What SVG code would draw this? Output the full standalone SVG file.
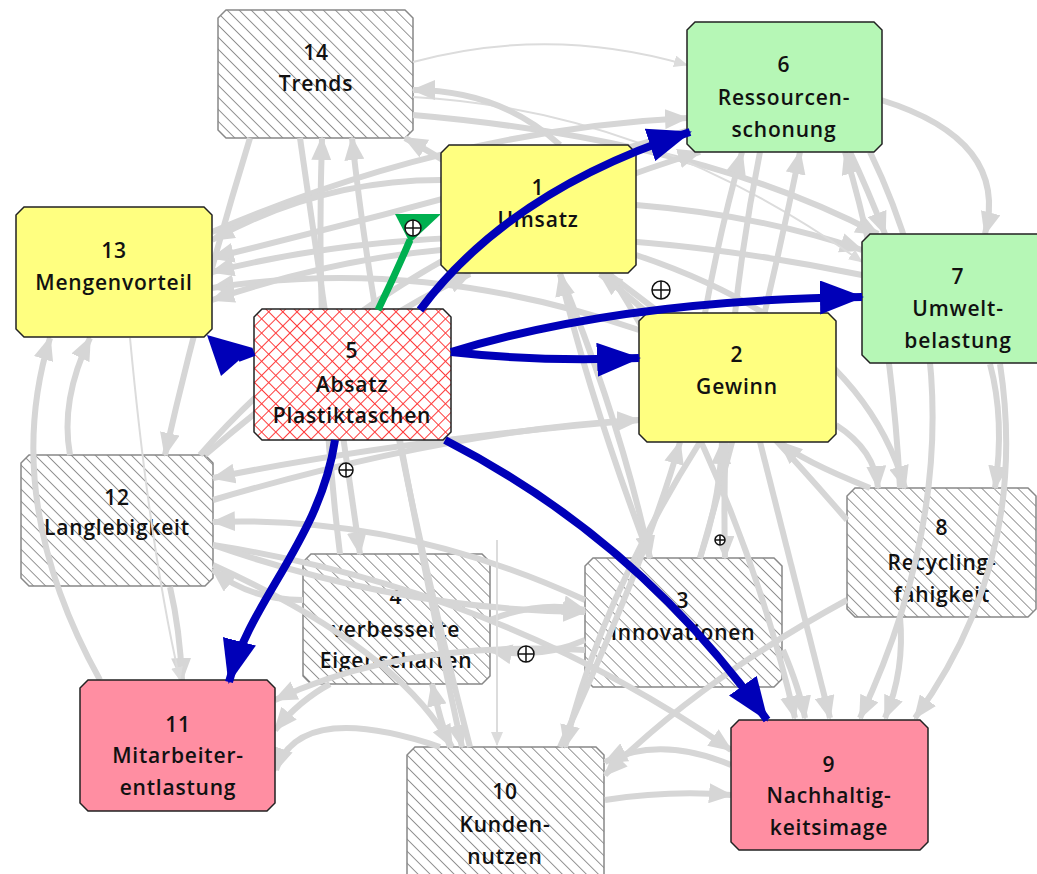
<svg xmlns="http://www.w3.org/2000/svg" width="1037" height="874" viewBox="0 0 1037 874">
<defs>
<pattern id="hatch" width="8.5" height="8.5" patternUnits="userSpaceOnUse" patternTransform="rotate(-45)">
<rect width="8.5" height="8.5" fill="#fff"/>
<line x1="0" y1="0" x2="0" y2="8.5" stroke="#404040" stroke-width="1.1"/>
</pattern>
<pattern id="cross" width="10" height="10" patternUnits="userSpaceOnUse" patternTransform="rotate(45)">
<rect width="10" height="10" fill="#fff"/>
<line x1="0" y1="0" x2="0" y2="10" stroke="#ff3c3c" stroke-width="2"/>
<line x1="0" y1="0" x2="10" y2="0" stroke="#ff3c3c" stroke-width="2"/>
</pattern>
<marker id="ga" markerUnits="userSpaceOnUse" markerWidth="24" markerHeight="20" refX="22" refY="10" orient="auto"><path d="M0,0 L24,10 L0,20 z" fill="#d6d6d6"/></marker>
<marker id="gt" markerUnits="userSpaceOnUse" markerWidth="14" markerHeight="12" refX="13" refY="6" orient="auto"><path d="M0,0 L14,6 L0,12 z" fill="#dcdcdc"/></marker>
<marker id="ba" markerUnits="userSpaceOnUse" markerWidth="44" markerHeight="34" refX="42" refY="17" orient="auto"><path d="M0,0 L44,17 L0,34 z" fill="#0000b8"/></marker>
</defs>
<style>
.lbl{font-family:"Open Sans","Liberation Sans",sans-serif;font-size:21px;font-weight:600;fill:#111;text-anchor:middle;letter-spacing:0.8px}
.hn{fill:url(#hatch);stroke:#888;stroke-width:1.5}
.yel{fill:#ffff80;stroke:#222;stroke-width:1.5}
.grn{fill:#b6f7b6;stroke:#222;stroke-width:1.5}
.pnk{fill:#ff8ea2;stroke:#222;stroke-width:1.5}
.red{fill:url(#cross);stroke:#222;stroke-width:1.5}
.g{fill:none;stroke:#d6d6d6;stroke-width:6;marker-end:url(#ga)}
.gt{fill:none;stroke:#dcdcdc;stroke-width:2;marker-end:url(#gt)}
.b{fill:none;stroke:#0000b8;stroke-width:8}
.pl circle{fill:#fff;stroke:#111;stroke-width:1.5}
.pl line{stroke:#111;stroke-width:1.5}
</style>
<rect width="1037" height="874" fill="#fff"/>

<g id="node14"><path class="hn" d="M226 10 H405 L413 18 V130 L405 138 H226 L218 130 V18 Z"/><text class="lbl" x="316" y="60">14</text><text class="lbl" x="316" y="91">Trends</text></g>
<g id="node12"><path class="hn" d="M29 455 H205 L213 463 V578 L205 586 H29 L21 578 V463 Z"/><text class="lbl" x="117" y="505">12</text><text class="lbl" x="117" y="535">Langlebigkeit</text></g>
<g id="node8"><path class="hn" d="M855 488 H1028 L1036 496 V609 L1028 617 H855 L847 609 V496 Z"/><text class="lbl" x="942" y="535">8</text><text class="lbl" x="942" y="570">Recycling-</text><text class="lbl" x="942" y="602">fähigkeit</text></g>
<g id="node4"><path class="hn" d="M311 554 H482 L490 562 V676 L482 684 H311 L303 676 V562 Z"/><text class="lbl" x="396" y="604">4</text><text class="lbl" x="396" y="637">verbesserte</text><text class="lbl" x="396" y="668">Eigenschaften</text></g>
<g id="node3"><path class="hn" d="M593 558 H774 L782 566 V679 L774 687 H593 L585 679 V566 Z"/><text class="lbl" x="683" y="608">3</text><text class="lbl" x="683" y="640">Innovationen</text></g>
<g id="node10"><path class="hn" d="M415 747 H596 L604 755 V880 H407 V755 Z"/><text class="lbl" x="505" y="799">10</text><text class="lbl" x="505" y="832">Kunden-</text><text class="lbl" x="505" y="864">nutzen</text></g>

<g id="connectors">
<path class="g" d="M900 617 Q905 670 885 718"/>
<path class="g" d="M1000 364 Q1030 560 915 718"/>
<path class="g" d="M870 152 Q1000 420 860 718"/>
<path class="g" d="M760 442 Q800 600 830 718"/>
<path class="g" d="M783 650 Q800 690 805 718"/>
<path class="g" d="M610 274 Q740 480 795 718"/>
<path class="g" d="M213 545 Q500 590 731 750"/>
<path class="g" d="M605 800 Q670 790 731 795"/>
<path class="g" d="M731 765 Q660 735 605 762"/>
<path class="g" d="M990 364 Q1005 420 995 488"/>
<path class="g" d="M881 100 Q1010 140 985 234"/>
<path class="g" d="M636 255 Q860 330 905 488"/>
<path class="g" d="M836 425 Q875 450 878 488"/>
<path class="g" d="M850 152 Q868 190 885 234"/>
<path class="g" d="M636 205 Q760 215 862 250"/>
<path class="g" d="M413 115 Q700 140 878 234"/>
<path class="gt" d="M413 62 Q550 25 687 65"/>
<path class="gt" d="M413 97 Q650 110 862 262"/>
<path class="g" d="M212 232 Q450 130 687 118"/>
<path class="g" d="M200 455 Q380 250 700 152"/>
<path class="g" d="M705 313 Q720 230 742 152"/>
<path class="g" d="M700 558 Q760 350 800 152"/>
<path class="g" d="M900 488 Q890 300 845 152"/>
<path class="g" d="M340 554 Q315 350 322 138"/>
<path class="g" d="M470 747 Q380 400 352 138"/>
<path class="g" d="M660 313 Q500 190 405 138"/>
<path class="g" d="M690 130 Q450 200 212 258"/>
<path class="g" d="M639 330 Q420 255 212 288"/>
<path class="g" d="M862 275 Q500 200 212 272"/>
<path class="g" d="M70 455 Q60 400 90 338"/>
<path class="g" d="M100 680 Q0 500 50 338"/>
<path class="g" d="M639 420 Q400 440 213 478"/>
<path class="g" d="M585 600 Q400 515 213 522"/>
<path class="g" d="M250 138 Q200 300 165 455"/>
<path class="g" d="M170 587 Q180 630 182 680"/>
<path class="g" d="M585 650 Q400 640 275 700"/>
<path class="gt" d="M130 338 Q150 550 180 680"/>
<path class="g" d="M400 440 Q430 600 462 747"/>
<path class="g" d="M700 442 Q600 600 565 747"/>
<path class="g" d="M213 565 Q400 650 452 747"/>
<path class="g" d="M847 600 Q700 680 605 775"/>
<path class="g" d="M560 274 Q620 420 650 558"/>
<path class="g" d="M760 152 Q720 350 725 558"/>
<path class="g" d="M213 545 Q400 610 585 612"/>
<path class="g" d="M300 138 Q330 350 360 554"/>
<path class="g" d="M450 747 Q440 720 432 684"/>
<path class="g" d="M650 558 Q590 400 560 274"/>
<path class="g" d="M205 455 Q350 330 470 274"/>
<path class="g" d="M847 520 Q700 350 600 274"/>
<path class="g" d="M870 488 Q800 460 780 442"/>
<path class="g" d="M700 558 Q720 500 722 442"/>
<path class="g" d="M560 747 Q650 550 680 442"/>
<path class="g" d="M213 500 Q450 430 639 420"/>
<path class="g" d="M490 620 Q540 600 585 610"/>
<path class="g" d="M585 640 Q540 660 490 650"/>
<path class="g" d="M441 250 Q330 260 212 300"/>
<path class="g" d="M441 180 Q320 180 212 240"/>
<path class="g" d="M560 145 Q500 90 413 90"/>
<path class="g" d="M303 600 Q250 600 213 570"/>
<path class="g" d="M330 684 Q300 700 275 730"/>
<path class="g" d="M440 747 Q300 700 276 770"/>
<path class="gt" d="M497 540 L497 745"/>
</g>

<g id="node6"><path class="grn" d="M695 22 H874 L882 30 V144 L874 152 H695 L687 144 V30 Z"/><text class="lbl" x="784" y="72">6</text><text class="lbl" x="784" y="105">Ressourcen-</text><text class="lbl" x="784" y="137">schonung</text></g>
<g id="node1"><path class="yel" d="M449 145 H628 L636 153 V265 L628 273 H449 L441 265 V153 Z"/><text class="lbl" x="538" y="195">1</text><text class="lbl" x="538" y="227">Umsatz</text></g>
<g id="node13"><path class="yel" d="M24 207 H204 L212 215 V329 L204 337 H24 L16 329 V215 Z"/><text class="lbl" x="114" y="258">13</text><text class="lbl" x="114" y="290">Mengenvorteil</text></g>
<g id="node7"><path class="grn" d="M870 234 H1040 L1048 242 V355 L1040 363 H870 L862 355 V242 Z"/><text class="lbl" x="958" y="284">7</text><text class="lbl" x="958" y="316">Umwelt-</text><text class="lbl" x="958" y="348">belastung</text></g>
<g id="node2"><path class="yel" d="M647 313 H828 L836 321 V434 L828 442 H647 L639 434 V321 Z"/><text class="lbl" x="737" y="362">2</text><text class="lbl" x="737" y="394">Gewinn</text></g>
<g id="node11"><path class="pnk" d="M88 680 H267 L275 688 V803 L267 811 H88 L80 803 V688 Z"/><text class="lbl" x="178" y="732">11</text><text class="lbl" x="178" y="763">Mitarbeiter-</text><text class="lbl" x="178" y="795">entlastung</text></g>
<g id="node9"><path class="pnk" d="M739 720 H920 L928 728 V842 L920 850 H739 L731 842 V728 Z"/><text class="lbl" x="829" y="772">9</text><text class="lbl" x="829" y="803">Nachhaltig-</text><text class="lbl" x="829" y="835">keitsimage</text></g>
<g id="node5"><path class="red" d="M262 309 H443 L451 317 V432 L443 440 H262 L254 432 V317 Z"/><text class="lbl" x="352" y="358">5</text><text class="lbl" x="352" y="392">Absatz</text><text class="lbl" x="352" y="423">Plastiktaschen</text></g>

<g id="main-connectors">
<path class="b" d="M420 310 Q510 190 690 132" marker-end="url(#ba)"/>
<path class="b" d="M451 352 Q620 300 862 297" marker-end="url(#ba)"/>
<path class="b" d="M451 352 Q540 362 639 358" marker-end="url(#ba)"/>
<path class="b" d="M335 440 C320 540 250 600 229 682" marker-end="url(#ba)"/>
<path class="b" d="M445 440 Q640 540 767 720" marker-end="url(#ba)"/>
<path class="b" d="M254 352 L238 358"/>
<polygon points="207,335 253,348 221,376" fill="#0000b8"/>
<path d="M378 310 Q395 275 410 240" fill="none" stroke="#00b050" stroke-width="7"/>
<polygon points="395,214 441,214 410,243" fill="#00b050"/>
<g class="pl"><circle cx="413" cy="228" r="8"/><line x1="405" y1="228" x2="421" y2="228"/><line x1="413" y1="220" x2="413" y2="236"/></g>
<g class="pl"><circle cx="661" cy="290" r="9"/><line x1="652" y1="290" x2="670" y2="290"/><line x1="661" y1="281" x2="661" y2="299"/></g>
<g class="pl"><circle cx="346" cy="470" r="7"/><line x1="339" y1="470" x2="353" y2="470"/><line x1="346" y1="463" x2="346" y2="477"/></g>
<g class="pl"><circle cx="720" cy="540" r="5"/><line x1="715" y1="540" x2="725" y2="540"/><line x1="720" y1="535" x2="720" y2="545"/></g>
<g class="pl"><circle cx="526" cy="654" r="8"/><line x1="518" y1="654" x2="534" y2="654"/><line x1="526" y1="646" x2="526" y2="662"/></g>
</g>
</svg>
